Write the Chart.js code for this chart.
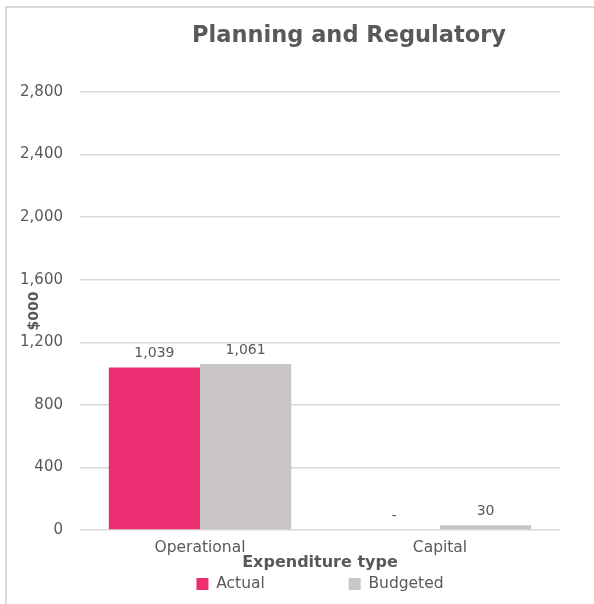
<!DOCTYPE html>
<html>
<head>
<meta charset="utf-8">
<script src="https://cdn.jsdelivr.net/npm/chart.js@4.4.1/dist/chart.umd.min.js"></script>
<style>
  html, body { margin: 0; background: #fff; overflow: hidden; }
  #myChart { display: block; }
</style>
</head>
<body>
<canvas id="myChart" width="594" height="604"></canvas>
<script>
var categories = ["Operational", "Capital"];
var actual = [1039, 0];
var budgeted = [1061, 30];
var yTicks = [0, 400, 800, 1200, 1600, 2000, 2400, 2800];

var textColor = "#595959";
var fontFamily = "'DejaVu Sans', 'Noto Sans', sans-serif";

function fmt(v) {
  if (v == 0) return "-";
  return v.toLocaleString("en-US");
}

// outer frame (only top and left edges show) and the title, drawn by hand
var framePlugin = {
  id: "frameAndTitle",
  beforeDraw: function(chart) {
    var ctx = chart.ctx;
    ctx.save();
    ctx.strokeStyle = "#d9d9d9";
    ctx.lineWidth = 2;
    ctx.beginPath();
    ctx.moveTo(6, chart.height);
    ctx.lineTo(6, 7);
    ctx.lineTo(chart.width, 7);
    ctx.stroke();
    ctx.restore();
  },
  afterDraw: function(chart) {
    var ctx = chart.ctx;
    ctx.save();
    ctx.font = "bold 22.5px " + fontFamily;
    ctx.fillStyle = textColor;
    ctx.textAlign = "center";
    ctx.textBaseline = "alphabetic";
    ctx.fillText("Planning and Regulatory", 349, 42);
    ctx.restore();
  }
};

// value labels over the bars
var valueLabels = {
  id: "valueLabels",
  afterDatasetsDraw: function(chart) {
    var ctx = chart.ctx;
    ctx.save();
    ctx.font = "14px " + fontFamily;
    ctx.fillStyle = textColor;
    ctx.textAlign = "center";
    ctx.textBaseline = "alphabetic";
    chart.data.datasets.forEach(function(ds, i) {
      var meta = chart.getDatasetMeta(i);
      meta.data.forEach(function(bar, j) {
        ctx.fillText(fmt(ds.data[j]), bar.x, bar.y - 10);
      });
    });
    ctx.restore();
  }
};

var ctx = document.getElementById("myChart").getContext("2d");
var chart = new Chart(ctx, {
  type: "bar",
  data: {
    labels: categories,
    datasets: [{
      label: "Actual",
      backgroundColor: "#ee2e73",
      data: actual
    }, {
      label: "Budgeted",
      backgroundColor: "#c9c4c6",
      data: budgeted
    }]
  },
  options: {
    responsive: false,
    animation: false,
    categoryPercentage: 0.76,
    barPercentage: 1.0,
    layout: { padding: { top: 92, right: 34, bottom: 2.25, left: 0 } },
    scales: {
      x: {
        grid: { display: false, drawTicks: false },
        border: { display: false },
        ticks: { color: textColor, font: { family: fontFamily, size: 15.5 }, padding: 9 },
        title: {
          display: true,
          text: "Expenditure type",
          color: textColor,
          font: { family: fontFamily, size: 16, weight: "bold" },
          padding: { top: 0, bottom: -6.3 }
        },
        afterFit: function(scale) { scale.height = 36.25; }
      },
      y: {
        min: 0,
        max: 2800,
        afterBuildTicks: function(scale) {
          scale.ticks = yTicks.map(function(v) { return { value: v }; });
        },
        grid: { color: "#d9d9d9", lineWidth: 1.5, drawTicks: false },
        border: { display: false },
        ticks: {
          color: textColor,
          font: { family: fontFamily, size: 15 },
          padding: 17,
          callback: function(v) { return v.toLocaleString("en-US"); }
        },
        title: {
          display: true,
          text: "$000",
          color: textColor,
          font: { family: fontFamily, size: 14, weight: "bold" },
          padding: { top: 26, bottom: 0 }
        },
        afterFit: function(scale) { scale.width = 80; }
      }
    },
    plugins: {
      title: { display: false },
      tooltip: { enabled: false },
      legend: {
        position: "bottom",
        fullSize: false,
        labels: {
          color: textColor,
          font: { family: fontFamily, size: 15.5 },
          boxWidth: 12,
          boxHeight: 12,
          padding: 10,
          generateLabels: function(chart) {
            var items = Chart.defaults.plugins.legend.labels.generateLabels(chart);
            items[0].text = items[0].text + "               ";
            return items;
          }
        }
      }
    }
  },
  plugins: [framePlugin, valueLabels]
});
</script>
</body>
</html>
